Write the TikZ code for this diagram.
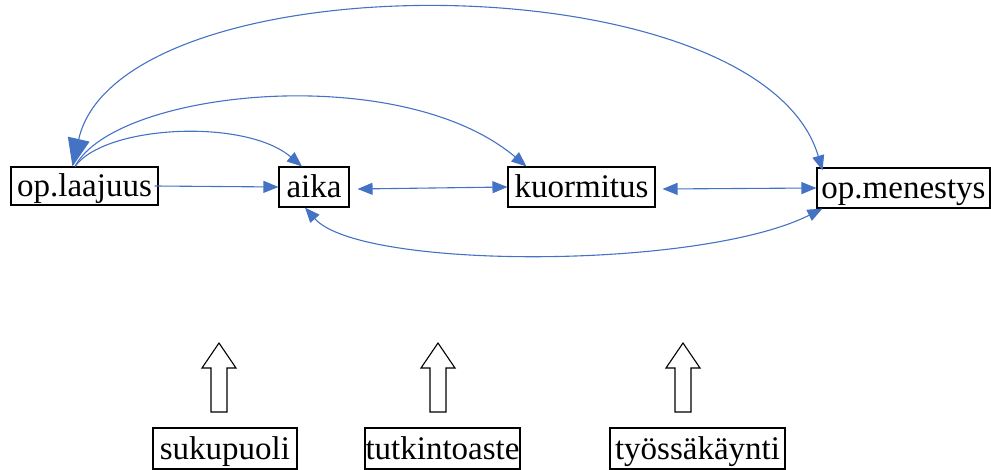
\documentclass[tikz,border=0pt]{standalone}
\usepackage{fontspec}
\setmainfont{Liberation Serif}
\usetikzlibrary{arrows.meta}
\definecolor{linkblue}{HTML}{4472C4}
\begin{document}
\begin{tikzpicture}[x=1pt,y=-1pt,
  box/.style={draw=black,line width=1.1pt,fill=white,inner xsep=0pt,inner ysep=0pt,
    minimum height=40pt,text height=26pt,text depth=5pt,
    font=\fontsize{33}{33}\selectfont},
  link/.style={draw=linkblue,line width=1.1pt},
  tip/.style={-{Triangle[length=15pt,width=12pt]}},
  bothtips/.style={{Triangle[length=15pt,width=12pt]}-{Triangle[length=15pt,width=12pt]}},
  uparrow/.pic={\draw[line width=1.1pt,fill=white]
     (0,0) -- (17,25) -- (8,25) -- (8,69) -- (-8,69) -- (-8,25) -- (-17,25) -- cycle;}
]
\useasboundingbox (0,0) rectangle (991,470);

% variables
\node[box,minimum width=147pt,minimum height=38pt] (laajuus) at (84.5,186) {op.laajuus};
\node[box,minimum width=70pt] (aika) at (314,187) {aika};
\node[box,minimum width=147pt] (kuormitus) at (581.5,187) {kuormitus};
\node[box,minimum width=173pt] (menestys) at (903.5,188) {op.menestys};

% background factors
\node[box,minimum width=144pt,minimum height=41pt] (sukupuoli) at (225,448.5) {sukupuoli};
\node[box,minimum width=155pt,minimum height=41pt] (tutkinto) at (442.5,448.5) {tutkintoaste};
\node[box,minimum width=175pt,minimum height=41pt] (tyossa) at (697.5,448.5) {työssäkäynti};

% block arrows pointing up from the factors
\pic at (219,343) {uparrow};
\pic at (438,343) {uparrow};
\pic at (683,343) {uparrow};

% straight links along the row
\draw[link,tip] ([xshift=-4pt]laajuus.east) -- (aika.west);
\draw[link,bothtips] ([xshift=8pt,yshift=-2pt]aika.east) -- (kuormitus.west);
\draw[link,bothtips] ([xshift=7pt,yshift=-2pt]kuormitus.east) -- (menestys.west);

% arcs above the row
\draw[link,tip] ([xshift=-9.5pt]laajuus.north) .. controls (105,125) and (245,118) .. ([xshift=-12pt]aika.north);
\draw[link,tip] ([xshift=-9.5pt]laajuus.north) .. controls (115,90) and (400,60) .. ([xshift=-55pt]kuormitus.north);
\draw[link,{Triangle[length=28pt,width=22pt]}-{Triangle[length=15pt,width=12pt]}]
  ([xshift=-12pt]laajuus.north) .. controls (120,-42) and (760,-42) .. ([xshift=-81pt,yshift=-3pt]menestys.north);

% arc below the row
\draw[link,bothtips] ([xshift=-9pt]aika.south) .. controls (360,270) and (700,270) .. ([xshift=-81pt]menestys.south);
\end{tikzpicture}
\end{document}
